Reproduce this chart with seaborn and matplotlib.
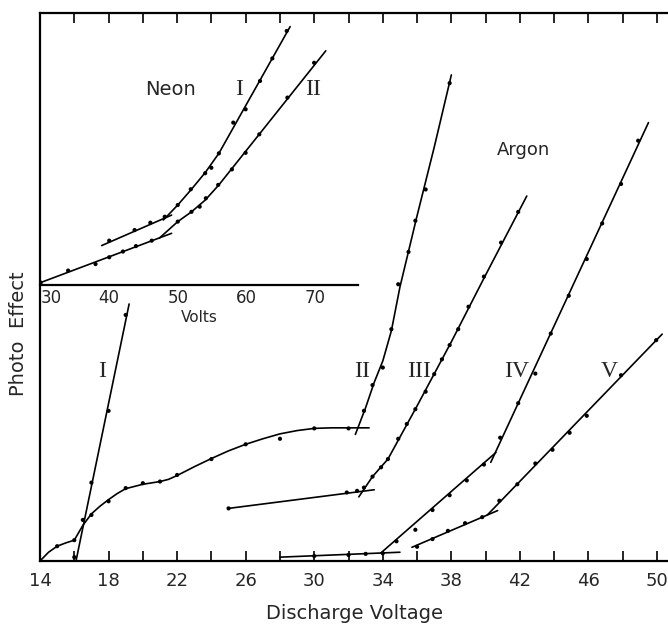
import numpy as np
import pandas as pd
import matplotlib
matplotlib.use("Agg")
import matplotlib.pyplot as plt
import seaborn as sns

# ---- Argon (main axes, discharge voltage) ----
base_line_v = [14, 14.5, 15, 15.5, 16, 16.5, 17, 17.5, 18, 18.5, 19, 20, 21, 21.5, 22,
               23, 24, 25, 26, 27, 28, 29, 30, 31, 32, 33.2]
base_line_y = [0, 1.6, 2.7, 3.3, 3.8, 6.5, 8.6, 10.0, 11.2, 12.3, 13.2, 14.0, 14.5, 14.9, 15.6,
               17.2, 18.7, 20.1, 21.3, 22.3, 23.2, 23.8, 24.2, 24.3, 24.3, 24.3]
base_pts_v = [14, 15, 16, 16.5, 17, 18, 19, 20, 21, 22, 24, 26, 28, 30, 32]
base_pts_y = [0, 2.7, 3.8, 7.5, 8.4, 10.9, 13.3, 14.2, 14.5, 15.7, 18.6, 21.3, 22.3, 24.2, 24.2]

ar1_line_v = [16.1, 19.2]
ar1_line_y = [0, 46.9]
ar1_pts_v = [16, 17, 18, 19]
ar1_pts_y = [0.7, 14.3, 27.4, 44.9]

ar2_line_v = [32.4, 33.0, 33.5, 34.0, 34.5, 35.0, 36.0, 37.0, 38.0]
ar2_line_y = [23.1, 28.0, 32.6, 36.5, 42.0, 50.0, 63.0, 75.5, 88.7]
ar2_pts_v = [32.9, 33.4, 34.0, 34.5, 34.9, 35.5, 35.9, 36.5, 37.9]
ar2_pts_y = [27.4, 32.1, 35.3, 42.3, 50.5, 56.4, 62.1, 67.8, 87.2]

ar3_flat_v = [25, 33.5]
ar3_flat_y = [9.6, 13.0]
ar3_flat_pts_v = [25, 31.9, 32.5]
ar3_flat_pts_y = [9.6, 12.5, 12.8]
ar3_line_v = [32.6, 33.4, 34.3, 35.0, 36.0, 38.0, 40.0, 42.4]
ar3_line_y = [11.7, 15.4, 18.6, 22.6, 28.3, 40.0, 52.2, 66.6]
ar3_pts_v = [32.9, 33.4, 33.9, 34.3, 34.9, 35.4, 35.9, 36.5, 37.0, 37.45, 37.9, 38.4,
             39.0, 39.9, 40.9, 41.9]
ar3_pts_y = [13.4, 15.4, 17.1, 18.6, 22.3, 25.0, 27.7, 30.9, 34.1, 36.8, 39.4, 42.3,
             46.4, 51.9, 58.1, 63.7]

ar4_flat_v = [28, 35.0]
ar4_flat_y = [0.7, 1.6]
ar4_flat_pts_v = [30, 32, 33, 34]
ar4_flat_pts_y = [0.9, 1.1, 1.3, 1.4]
ar4_low_v = [33.9, 40.6]
ar4_low_y = [1.5, 19.8]
ar4_low_pts_v = [34.8, 35.9, 36.9, 37.9, 38.9, 39.9]
ar4_low_pts_y = [3.6, 5.7, 9.3, 12.0, 14.7, 17.6]
ar4_up_v = [40.3, 49.5]
ar4_up_y = [18.0, 80.0]
ar4_up_pts_v = [40.85, 41.9, 42.9, 43.8, 44.85, 45.9, 46.8, 47.9, 48.9]
ar4_up_pts_y = [22.5, 28.8, 34.2, 41.5, 48.4, 55.1, 61.6, 68.8, 76.7]

ar5_low_v = [35.7, 40.7]
ar5_low_y = [2.5, 9.2]
ar5_low_pts_v = [36, 36.9, 37.8, 38.8, 39.8]
ar5_low_pts_y = [2.6, 4.0, 5.5, 6.9, 8.0]
ar5_up_v = [40.1, 50.3]
ar5_up_y = [8.4, 41.4]
ar5_up_pts_v = [40.8, 41.85, 42.9, 43.9, 44.9, 45.9, 47.9, 49.95]
ar5_up_pts_y = [11.0, 14.0, 17.8, 20.3, 23.4, 26.5, 33.9, 40.3]

# ---- Neon (inset, volts) ----
ne1_low_v = [38.9, 49.1]
ne1_low_y = [14.5, 25.7]
ne1_low_pts_v = [40.0, 43.7, 46.0, 48.1]
ne1_low_pts_y = [16.3, 20.2, 22.9, 25.1]
ne1_up_v = [47.9, 50, 52, 54, 56, 66.4]
ne1_up_y = [23.9, 29.4, 35.2, 41.3, 48.4, 95.0]
ne1_up_pts_v = [50.0, 51.9, 54.0, 54.9, 56.0, 58.1, 59.9, 62.0, 63.8, 65.9]
ne1_up_pts_y = [29.4, 35.2, 41.1, 43.1, 48.4, 59.7, 64.6, 75.0, 83.3, 93.4]

ne2_low_v = [30, 49.1]
ne2_low_y = [0.9, 19.0]
ne2_low_pts_v = [30, 34.0, 38.0, 40.0, 42.0, 43.9, 46.2]
ne2_low_pts_y = [0.9, 5.3, 7.7, 10.2, 12.3, 14.3, 16.3]
ne2_up_v = [47.3, 50, 52, 54, 56, 71.6]
ne2_up_y = [17.2, 23.3, 26.9, 31.2, 36.8, 86.1]
ne2_up_pts_v = [50.0, 52.0, 53.2, 54.1, 55.9, 57.9, 59.9, 61.9, 66.0, 69.9]
ne2_up_pts_y = [23.3, 26.9, 28.8, 31.9, 36.8, 42.5, 48.6, 55.4, 68.9, 81.7]

main_ticks = list(range(14, 51, 2))
main_labels = [str(t) if (t - 14) % 4 == 0 else "" for t in main_ticks]
inset_ticks = list(range(30, 76, 5))
inset_labels = [str(t) if t % 10 == 0 else "" for t in inset_ticks]

sns.set_style("white")
plt.rcParams["font.family"] = ["DejaVu Sans"]

fig = plt.figure(figsize=(6.68, 6.27), dpi=100)
ax = fig.add_axes([40 / 668, 66 / 627, 628 / 668, 548 / 627])
ins = fig.add_axes([40 / 668, 342 / 627, 318 / 668, 272 / 627])


def curve(a, xs, ys, lw=1.2):
    sns.lineplot(x=xs, y=ys, ax=a, sort=False, estimator=None, color="black", lw=lw)


def dots(a, xs, ys):
    sns.scatterplot(x=xs, y=ys, ax=a, color="black", s=9, edgecolor="none", zorder=3)


for xs, ys in [(base_line_v, base_line_y), (ar1_line_v, ar1_line_y), (ar2_line_v, ar2_line_y),
               (ar3_flat_v, ar3_flat_y), (ar3_line_v, ar3_line_y), (ar4_flat_v, ar4_flat_y),
               (ar4_low_v, ar4_low_y), (ar4_up_v, ar4_up_y), (ar5_low_v, ar5_low_y),
               (ar5_up_v, ar5_up_y)]:
    curve(ax, xs, ys)
for xs, ys in [(base_pts_v, base_pts_y), (ar1_pts_v, ar1_pts_y), (ar2_pts_v, ar2_pts_y),
               (ar3_flat_pts_v, ar3_flat_pts_y), (ar3_pts_v, ar3_pts_y),
               (ar4_flat_pts_v, ar4_flat_pts_y), (ar4_low_pts_v, ar4_low_pts_y),
               (ar4_up_pts_v, ar4_up_pts_y), (ar5_low_pts_v, ar5_low_pts_y),
               (ar5_up_pts_v, ar5_up_pts_y)]:
    dots(ax, xs, ys)

for xs, ys in [(ne1_low_v, ne1_low_y), (ne1_up_v, ne1_up_y), (ne2_low_v, ne2_low_y),
               (ne2_up_v, ne2_up_y)]:
    curve(ins, xs, ys)
for xs, ys in [(ne1_low_pts_v, ne1_low_pts_y), (ne1_up_pts_v, ne1_up_pts_y),
               (ne2_low_pts_v, ne2_low_pts_y), (ne2_up_pts_v, ne2_up_pts_y)]:
    dots(ins, xs, ys)

# main axes frame
ax.set_xlim(14, 50.64)
ax.set_ylim(0, 100)
ax.set_xticks(main_ticks)
ax.set_xticklabels(main_labels, fontsize=13)
ax.set_yticks([])
ax.tick_params(axis="x", direction="in", length=7, width=1.2, top=True, bottom=True,
               pad=8, color="black")
ax.spines["right"].set_visible(False)
for s in ["left", "bottom", "top"]:
    ax.spines[s].set_linewidth(1.6)
    ax.spines[s].set_color("black")
ax.set_xlabel("Discharge Voltage", fontsize=14, labelpad=10)
ax.set_ylabel("Photo  Effect", fontsize=14)
ax.yaxis.set_label_coords(-0.019, 0.414)

ser = ["Liberation Serif"]
ax.text(17.6, 34.5, "I", fontsize=17, family=ser, ha="center", va="center")
ax.text(32.8, 34.5, "II", fontsize=17, family=ser, ha="center", va="center")
ax.text(36.1, 34.5, "III", fontsize=17, family=ser, ha="center", va="center")
ax.text(41.8, 34.5, "IV", fontsize=17, family=ser, ha="center", va="center")
ax.text(47.2, 34.5, "V", fontsize=17, family=ser, ha="center", va="center")
ax.text(42.2, 75, "Argon", fontsize=13, ha="center", va="center")

# inset
ins.patch.set_alpha(0)
ins.set_xlim(29.9, 76.3)
ins.set_ylim(0, 100)
ins.set_xticks(inset_ticks)
ins.set_xticklabels(inset_labels, fontsize=12)
ins.get_xticklabels()[0].set_horizontalalignment("left")
ins.set_yticks([])
ins.tick_params(axis="x", direction="in", length=6, width=1.2, pad=3, color="black")
for s in ["left", "right", "top"]:
    ins.spines[s].set_visible(False)
ins.spines["bottom"].set_linewidth(1.6)
ins.spines["bottom"].set_color("black")
ins.set_xlabel("Volts", fontsize=11, labelpad=2)
ins.text(48.9, 71.7, "Neon", fontsize=14, ha="center", va="center")
ins.text(59.0, 71.7, "I", fontsize=17, family=ser, ha="center", va="center")
ins.text(69.7, 71.7, "II", fontsize=17, family=ser, ha="center", va="center")

fig.savefig("out.png", dpi=100)
